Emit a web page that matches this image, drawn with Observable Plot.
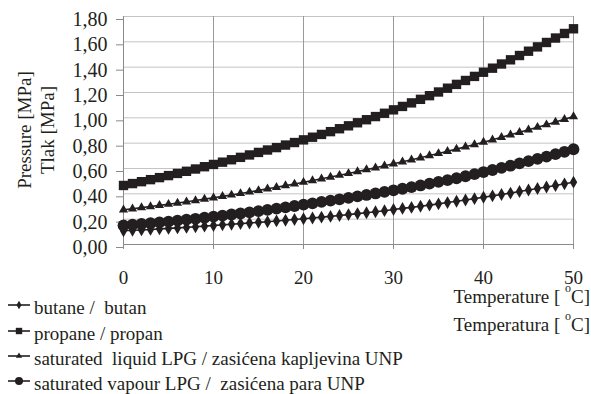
<!DOCTYPE html>
<html><head><meta charset="utf-8">
<script src="https://cdn.jsdelivr.net/npm/d3@7"></script>
<script src="https://cdn.jsdelivr.net/npm/@observablehq/plot@0.6"></script>
<style>body{margin:0;background:#fff;} svg{display:block;} svg text{font-family:'Liberation Serif',serif;}</style>
</head><body><div id="chart"></div>
<script>
const temperature = [0,1,2,3,4,5,6,7,8,9,10,11,12,13,14,15,16,17,18,19,20,21,22,23,24,25,26,27,28,29,30,31,32,33,34,35,36,37,38,39,40,41,42,43,44,45,46,47,48,49,50];
const butane = [0.108,0.112,0.115,0.119,0.123,0.127,0.131,0.135,0.140,0.145,0.150,0.155,0.160,0.165,0.170,0.175,0.180,0.186,0.191,0.197,0.203,0.209,0.216,0.222,0.229,0.236,0.244,0.251,0.259,0.267,0.276,0.285,0.293,0.302,0.311,0.321,0.331,0.341,0.351,0.362,0.373,0.384,0.395,0.406,0.418,0.430,0.442,0.454,0.466,0.479,0.492];
const propane = [0.466,0.481,0.496,0.512,0.528,0.544,0.561,0.578,0.596,0.614,0.632,0.650,0.669,0.688,0.707,0.727,0.746,0.765,0.785,0.805,0.826,0.847,0.869,0.891,0.914,0.937,0.961,0.985,1.010,1.036,1.063,1.090,1.118,1.146,1.175,1.204,1.234,1.264,1.295,1.327,1.360,1.392,1.425,1.458,1.492,1.526,1.560,1.595,1.630,1.666,1.703];
const liquidLPG = [0.274,0.282,0.291,0.300,0.309,0.318,0.327,0.337,0.347,0.358,0.369,0.380,0.391,0.403,0.415,0.427,0.440,0.452,0.465,0.478,0.492,0.505,0.519,0.533,0.547,0.561,0.576,0.591,0.606,0.621,0.637,0.653,0.669,0.685,0.702,0.719,0.736,0.753,0.771,0.789,0.808,0.827,0.846,0.866,0.886,0.906,0.926,0.946,0.967,0.988,1.010];
const vapourLPG = [0.150,0.156,0.162,0.168,0.175,0.181,0.188,0.196,0.203,0.211,0.220,0.228,0.237,0.245,0.254,0.263,0.273,0.283,0.293,0.304,0.315,0.325,0.336,0.346,0.357,0.368,0.380,0.391,0.403,0.415,0.428,0.440,0.453,0.466,0.480,0.494,0.508,0.523,0.539,0.555,0.572,0.588,0.605,0.622,0.640,0.658,0.676,0.694,0.713,0.732,0.752];
const yTicks = [0,0.2,0.4,0.6,0.8,1.0,1.2,1.4,1.6,1.8];
const xTicks = [0,10,20,30,40,50];
const seriesNames = ["butane /  butan","propane / propan","saturated  liquid LPG / zasićena kapljevina UNP","saturated vapour LPG /  zasićena para UNP"];
const seriesSymbols = ["diamond","square","triangle","circle"];
const seriesValues = [butane, propane, liquidLPG, vapourLPG];
const yTitles = ["Pressure [MPa]","Tlak [MPa]"];
const xTitles = ["Temperature [ ","Temperatura [ "];

const ink = "#231f20";
const font = "'Liberation Serif', serif";
const markerR = [3.9, 5.3, 3.4, 5.9];

const marks = [
  Plot.gridY(yTicks, {stroke: "#c4c4c4", strokeOpacity: 1, strokeWidth: 1}),
  Plot.gridX(xTicks, {stroke: "#9a9a9a", strokeOpacity: 1, strokeWidth: 1}),
  Plot.ruleX([0], {stroke: "#8a8a8a", strokeWidth: 1}),
  Plot.ruleY([0], {stroke: "#8a8a8a", strokeWidth: 1}),
  Plot.axisY({ticks: yTicks, tickSize: 7, tickPadding: 9, tickFormat: d => d.toFixed(2).replace(".", ","), stroke: "#8a8a8a", fill: ink, label: null, dy: 3, fontSize: 20}),
  Plot.axisX({ticks: xTicks, tickSize: 5, tickPadding: 21, tickFormat: d => String(d), stroke: "#8a8a8a", fill: ink, label: null})
];
seriesValues.forEach((vals, i) => {
  const data = vals.map((v, j) => ({t: temperature[j], p: v}));
  marks.push(Plot.line(data, {x: "t", y: "p", stroke: ink, strokeWidth: 1.6}));
  marks.push(Plot.dot(data, {x: "t", y: "p", symbol: () => seriesSymbols[i], r: markerR[i], fill: ink, stroke: "none"}));
});

const svg = Plot.plot({
  width: 591, height: 394,
  marginLeft: 123, marginRight: 18, marginTop: 16, marginBottom: 150,
  x: {domain: [0, 50]},
  y: {domain: [0, 1.8]},
  style: {fontFamily: font, fontSize: "19px", color: ink, background: "#fff", overflow: "visible"},
  marks
});
document.getElementById("chart").appendChild(svg);

const s = d3.select(svg);
const symbolTypes = {diamond: d3.symbolDiamond, square: d3.symbolSquare, triangle: d3.symbolTriangle, circle: d3.symbolCircle};
// y titles
[[31, yTitles[0]], [54, yTitles[1]]].forEach(([x, t]) => {
  s.append("text").attr("transform", `translate(${x},130) rotate(-90)`)
    .attr("text-anchor", "middle").attr("fill", ink)
    .style("font-family", font).style("font-size", "19px").text(t);
});
// x titles
[303, 331].forEach((y, i) => {
  const t = s.append("text").attr("x", 590).attr("y", y).attr("text-anchor", "end").attr("fill", ink)
    .style("font-family", font).style("font-size", "19px");
  t.append("tspan").text(xTitles[i]);
  t.append("tspan").attr("dy", -11).style("font-size", "12px").text("o");
  t.append("tspan").attr("dy", 11).text("C]");
});
// legend
const lg = s.append("g");
[305, 331, 356, 381].forEach((y, i) => {
  lg.append("line").attr("x1", 8).attr("x2", 30).attr("y1", y).attr("y2", y).attr("stroke", ink).attr("stroke-width", 1.6);
  const r = markerR[i] * 0.68;
  lg.append("path").attr("transform", `translate(19,${y})`)
    .attr("d", d3.symbol(symbolTypes[seriesSymbols[i]], Math.PI * r * r)())
    .attr("fill", ink);
  lg.append("text").attr("x", 34).attr("y", y + 9).attr("fill", ink).attr("text-anchor", "start")
    .style("font-family", font).style("font-size", "19px").style("white-space", "pre")
    .attr("xml:space", "preserve").text(seriesNames[i]);
});
</script>
</body></html>
